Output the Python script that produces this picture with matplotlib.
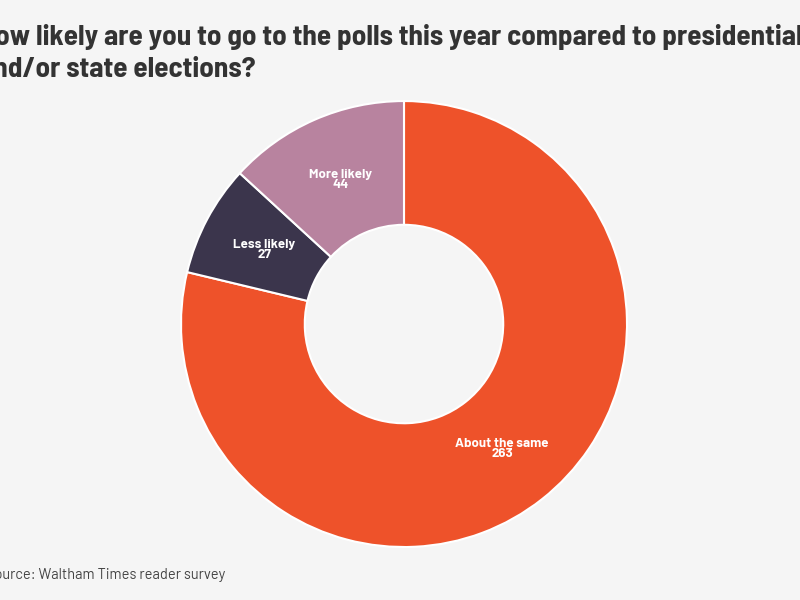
import matplotlib.pyplot as plt

# survey answers, in the order they go round the ring (clockwise from 12 o'clock)
labels = ["About the same", "Less likely", "More likely"]
counts = [263, 27, 44]
colors = ["#EE522A", "#3B354C", "#B8839F"]

title = ("How likely are you to go to the polls this year compared to presidential\n"
         "and/or state elections?")
source = "Source: Waltham Times reader survey"

bg = "#F5F5F5"
title_font = ["Barlow Semi Condensed", "Open Sans Condensed", "Roboto", "DejaVu Sans"]
label_font = ["Barlow", "Roboto", "DejaVu Sans"]

fig = plt.figure(figsize=(8, 6), dpi=100, facecolor=bg)
ax = fig.add_axes([0.22625, 0.0883, 0.5575, 0.7433])
ax.set_facecolor(bg)

texts = [f"{l}\n{c}" for l, c in zip(labels, counts)]
wedges, txts = ax.pie(
    counts,
    labels=texts,
    colors=colors,
    startangle=90,
    counterclock=False,
    labeldistance=0.71,
    wedgeprops=dict(width=0.555, edgecolor="white", linewidth=1.5),
    textprops=dict(color="white", fontsize=9.6, fontweight="bold",
                   ha="center", va="center", linespacing=0.9,
                   family=label_font),
)
ax.set_xlim(-1, 1)
ax.set_ylim(-1, 1)
ax.set_aspect("equal")

fig.text(-0.026, 0.872, title, ha="left", va="baseline", fontsize=21,
         fontweight="bold", color="#333333", linespacing=1.36,
         family=title_font)

fig.text(-0.018, 0.035, source, ha="left", va="baseline", fontsize=10.5,
         color="#444444", family=label_font)

fig.savefig("out.png", dpi=100, facecolor=bg)
